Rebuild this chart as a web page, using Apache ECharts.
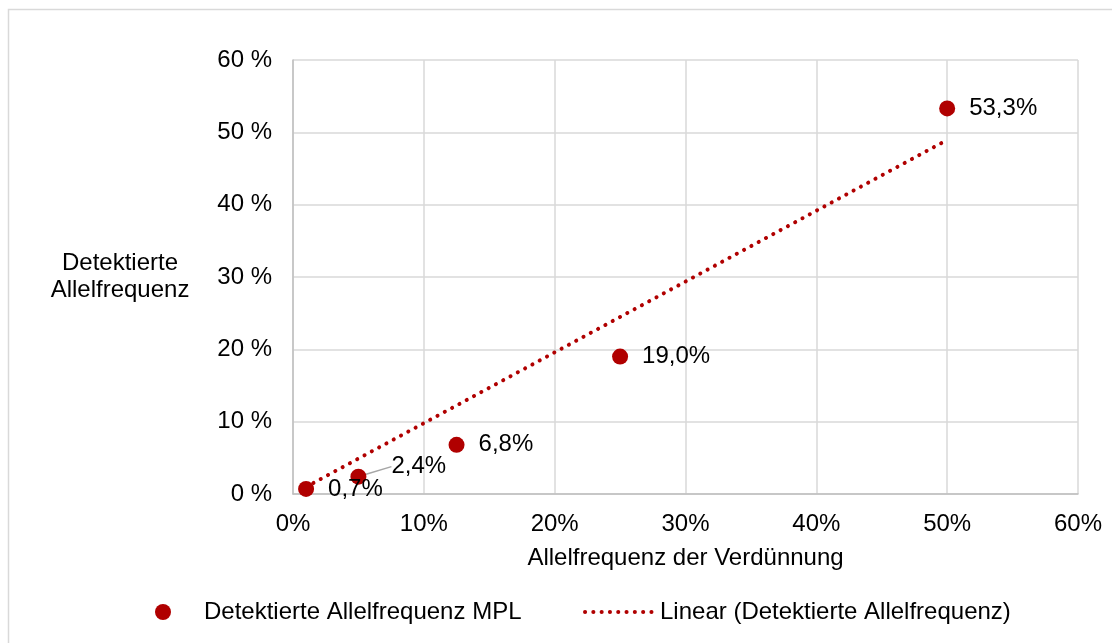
<!DOCTYPE html>
<html>
<head>
<meta charset="utf-8">
<script src="https://cdn.jsdelivr.net/npm/echarts@6/dist/echarts.min.js"></script>
<style>
  html, body { margin: 0; padding: 0; background: #fff; }
  #chart { width: 1112px; height: 643px; }
</style>
</head>
<body>
<div id="chart"></div>
<script>
// Verdünnung (x) und detektierte Allelfrequenz (y), in Prozent
const dilution = [1, 5, 12.5, 25, 50]
const detected = [0.7, 2.4, 6.8, 19.0, 53.3]
const seriesNames = ['Detektierte Allelfrequenz MPL', 'Linear (Detektierte Allelfrequenz)']

const red = '#b00000'
const font = 'Liberation Sans, Arial, sans-serif'

// lineare Trendlinie durch den Ursprung (wie in Excel)
let sxy = 0, sxx = 0
dilution.forEach((x, i) => { sxy += x * detected[i]; sxx += x * x })
const slope = sxy / sxx
const xFirst = dilution[0]
const xLast = dilution[dilution.length - 1]
const trend = [[xFirst, slope * xFirst], [xLast, slope * xLast]]

// nur der 2,4%-Punkt bekommt eine Führungslinie
const points = dilution.map((x, i) => {
  if (i === 1) return { value: [x, detected[i]], labelLine: { show: true } }
  return [x, detected[i]]
})

const chart = echarts.init(document.getElementById('chart'))

const option = {
  backgroundColor: '#fff',
  textStyle: { fontFamily: font },
  graphic: [{
    type: 'rect',
    shape: { x: 8.5, y: 9.5, width: 1200, height: 700 },
    style: { fill: 'none', stroke: '#d9d9d9', lineWidth: 1.5 },
    silent: true
  }],
  grid: { left: 293, right: 34, top: 60, bottom: 149 },
  legend: [{
    data: [seriesNames[0]],
    left: 150,
    top: 595,
    icon: 'circle',
    itemWidth: 72,
    itemHeight: 16,
    textStyle: { fontSize: 24, color: '#000', fontFamily: font }
  }, {
    data: [seriesNames[1]],
    left: 578,
    top: 595,
    itemWidth: 70,
    itemHeight: 15,
    itemStyle: { opacity: 0 },
    lineStyle: { color: red, width: 4, type: [0.1, 8.2], cap: 'round' },
    textStyle: { fontSize: 24, color: '#000', fontFamily: font }
  }],
  xAxis: {
    type: 'value',
    min: 0,
    max: 60,
    interval: 10,
    name: 'Allelfrequenz der Verdünnung',
    nameLocation: 'middle',
    nameGap: 52,
    nameTextStyle: { fontSize: 24, color: '#000' },
    axisLine: { show: true, lineStyle: { color: '#bfbfbf', width: 1.5 } },
    axisTick: { show: false },
    axisLabel: { formatter: '{value}%', fontSize: 24, color: '#000', margin: 18 },
    splitLine: { show: true, lineStyle: { color: '#d9d9d9', width: 1.5 } }
  },
  yAxis: {
    type: 'value',
    min: 0,
    max: 60,
    interval: 10,
    name: 'Detektierte\nAllelfrequenz',
    nameLocation: 'middle',
    nameRotate: 0,
    nameGap: 173,
    nameTextStyle: { fontSize: 24, color: '#000', align: 'center', lineHeight: 27 },
    axisLine: { show: true, lineStyle: { color: '#bfbfbf', width: 1.5 } },
    axisTick: { show: false },
    axisLabel: { formatter: '{value} %', fontSize: 24, color: '#000', margin: 21 },
    splitLine: { show: true, lineStyle: { color: '#d9d9d9', width: 1.5 } }
  },
  series: [{
    name: seriesNames[1],
    type: 'line',
    data: trend,
    showSymbol: false,
    symbol: 'none',
    silent: true,
    z: 2,
    itemStyle: { color: red },
    lineStyle: { color: red, width: 4, type: [0.1, 8.2], cap: 'round' }
  }, {
    name: seriesNames[0],
    type: 'scatter',
    data: points,
    symbolSize: 16,
    z: 3,
    itemStyle: { color: red, opacity: 1 },
    label: {
      show: true,
      position: 'right',
      distance: 14,
      fontSize: 24,
      color: '#000',
      formatter: p => p.value[1].toFixed(1).replace('.', ',') + '%'
    },
    labelLine: { show: false, lineStyle: { color: '#a6a6a6', width: 1.5 } },
    labelLayout: p => (p.dataIndex === 1 ? { dx: 11, dy: -10 } : {})
  }]
}

chart.setOption(option)
</script>
</body>
</html>
